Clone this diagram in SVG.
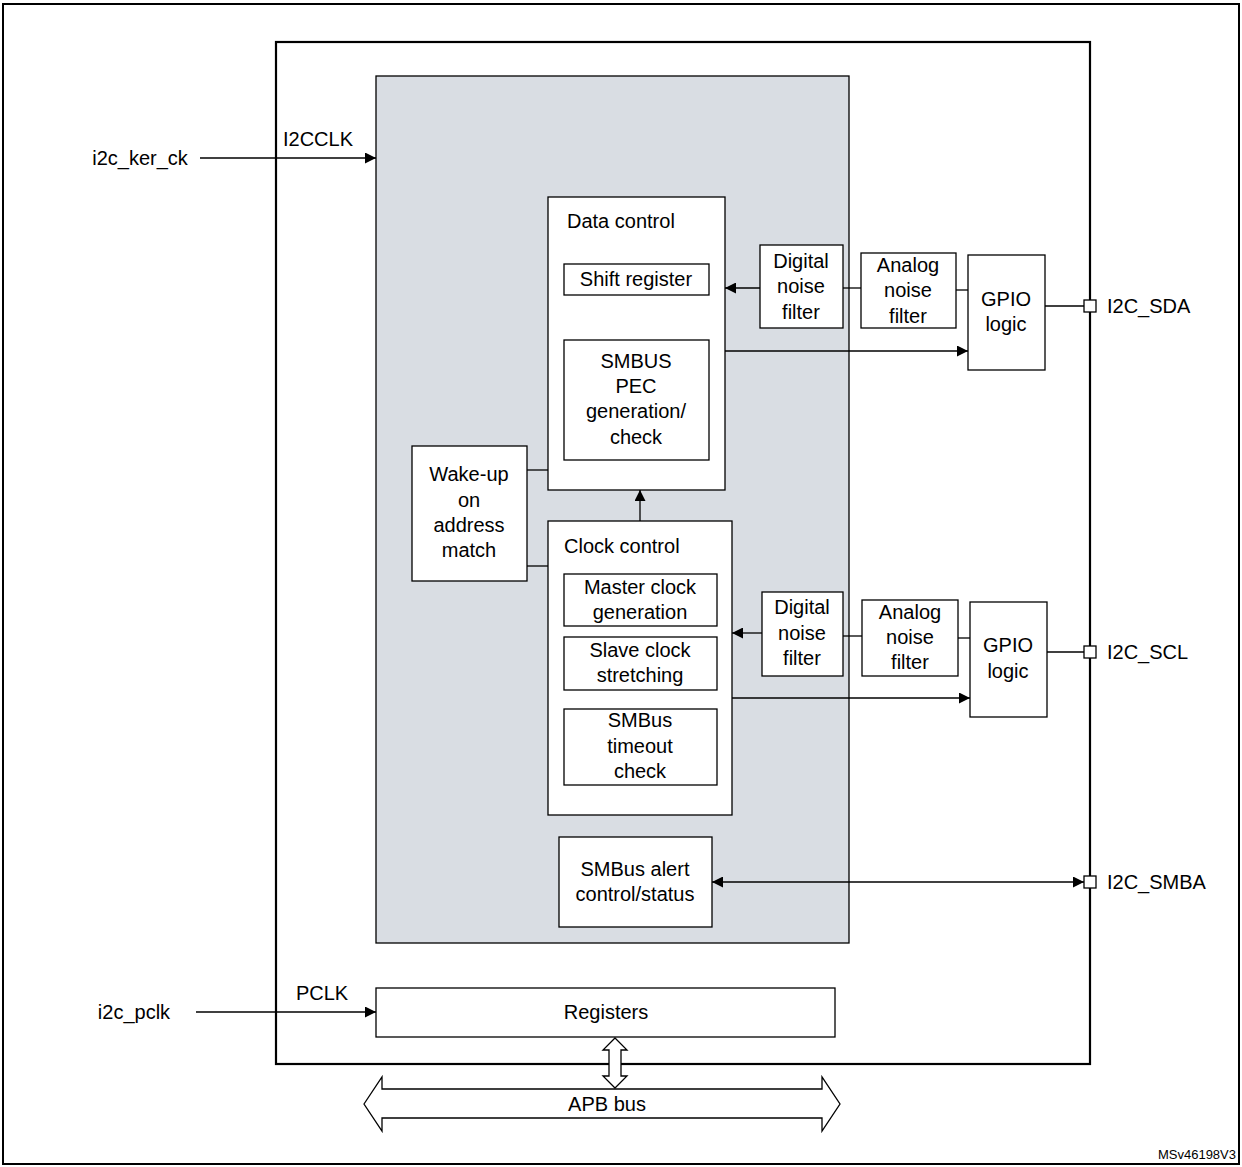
<svg xmlns="http://www.w3.org/2000/svg" width="1242" height="1167" viewBox="0 0 1242 1167">
<style>
text{font-family:"Liberation Sans",Arial,sans-serif;font-size:20px;fill:#000;text-anchor:middle}
.b{fill:#fff;stroke:#000;stroke-width:1.3}
.l{stroke:#000;stroke-width:1.3;fill:none}
.s{text-anchor:start}
</style>
<defs>
<marker id="a" viewBox="0 0 10 10" refX="10" refY="5" markerWidth="11" markerHeight="11" markerUnits="userSpaceOnUse" orient="auto-start-reverse"><path d="M0,0L10,5L0,10z" fill="#000"/></marker>
</defs>
<rect x="0" y="0" width="1242" height="1167" fill="#fff"/>
<rect x="3" y="4" width="1236" height="1160" fill="none" stroke="#000" stroke-width="2"/>
<rect x="276" y="42" width="814" height="1022" fill="#fff" stroke="#000" stroke-width="2.2"/>
<rect x="376" y="76" width="473" height="867" fill="#d9dde3" stroke="#000" stroke-width="1.3"/>
<g id="connectors">
<line class="l" x1="200" y1="158" x2="376" y2="158" marker-end="url(#a)"/>
<line class="l" x1="196" y1="1012" x2="376" y2="1012" marker-end="url(#a)"/>
<line class="l" x1="760" y1="288" x2="725" y2="288" marker-end="url(#a)"/>
<line class="l" x1="843" y1="288" x2="861" y2="288"/>
<line class="l" x1="956" y1="290" x2="968" y2="290"/>
<line class="l" x1="1045" y1="306" x2="1084" y2="306"/>
<line class="l" x1="725" y1="351" x2="968" y2="351" marker-end="url(#a)"/>
<line class="l" x1="762" y1="633" x2="732" y2="633" marker-end="url(#a)"/>
<line class="l" x1="843" y1="636" x2="862" y2="636"/>
<line class="l" x1="958" y1="638" x2="970" y2="638"/>
<line class="l" x1="1047" y1="652" x2="1084" y2="652"/>
<line class="l" x1="732" y1="698" x2="970" y2="698" marker-end="url(#a)"/>
<line class="l" x1="712" y1="882" x2="1084" y2="882" marker-start="url(#a)" marker-end="url(#a)"/>
<line class="l" x1="640" y1="521" x2="640" y2="490" marker-end="url(#a)"/>
<line class="l" x1="527" y1="470" x2="548" y2="470"/>
<line class="l" x1="527" y1="566" x2="548" y2="566"/>
<path class="b" d="M615,1038 L627,1050 L621,1050 L621,1076 L627,1076 L615,1088 L603,1076 L609,1076 L609,1050 L603,1050 Z"/>
<path class="b" d="M364,1104 L382,1077 L382,1089 L822,1089 L822,1077 L840,1104 L822,1131 L822,1118 L382,1118 L382,1131 Z"/>
</g>
<text x="140" y="165">i2c_ker_ck</text>
<text x="318" y="146">I2CCLK</text>
<text x="134" y="1019">i2c_pclk</text>
<text x="322" y="1000">PCLK</text>
<text x="607" y="1111">APB bus</text>
<g id="pins">
<rect class="b" x="1084" y="300" width="12" height="12"/>
<rect class="b" x="1084" y="646" width="12" height="12"/>
<rect class="b" x="1084" y="876" width="12" height="12"/>
<text class="s" x="1107" y="313">I2C_SDA</text>
<text class="s" x="1107" y="659">I2C_SCL</text>
<text class="s" x="1107" y="889">I2C_SMBA</text>
</g>
<g id="data"><rect class="b" x="548" y="197" width="177" height="293"/><text class="s" x="567" y="228">Data control</text></g>
<g id="shift"><rect class="b" x="564" y="264" width="145" height="31"/><text x="636" y="286">Shift register</text></g>
<g id="pec"><rect class="b" x="564" y="340" width="145" height="120"/><text x="636" y="368">SMBUS</text><text x="636" y="393">PEC</text><text x="636" y="418">generation/</text><text x="636" y="444">check</text></g>
<g id="wake"><rect class="b" x="412" y="446" width="115" height="135"/><text x="469" y="481">Wake-up</text><text x="469" y="507">on</text><text x="469" y="532">address</text><text x="469" y="557">match</text></g>
<g id="clock"><rect class="b" x="548" y="521" width="184" height="294"/><text class="s" x="564" y="553">Clock control</text></g>
<g id="master"><rect class="b" x="564" y="574" width="153" height="52"/><text x="640" y="594">Master clock</text><text x="640" y="619">generation</text></g>
<g id="slave"><rect class="b" x="564" y="637" width="153" height="53"/><text x="640" y="657">Slave clock</text><text x="640" y="682">stretching</text></g>
<g id="timeout"><rect class="b" x="564" y="709" width="153" height="76"/><text x="640" y="727">SMBus</text><text x="640" y="753">timeout</text><text x="640" y="778">check</text></g>
<g id="dnf1"><rect class="b" x="760" y="245" width="83" height="83"/><text x="801" y="268">Digital</text><text x="801" y="293">noise</text><text x="801" y="319">filter</text></g>
<g id="anf1"><rect class="b" x="861" y="253" width="95" height="75"/><text x="908" y="272">Analog</text><text x="908" y="297">noise</text><text x="908" y="323">filter</text></g>
<g id="gpio1"><rect class="b" x="968" y="255" width="77" height="115"/><text x="1006" y="306">GPIO</text><text x="1006" y="331">logic</text></g>
<g id="dnf2"><rect class="b" x="762" y="592" width="81" height="84"/><text x="802" y="614">Digital</text><text x="802" y="640">noise</text><text x="802" y="665">filter</text></g>
<g id="anf2"><rect class="b" x="862" y="600" width="96" height="76"/><text x="910" y="619">Analog</text><text x="910" y="644">noise</text><text x="910" y="669">filter</text></g>
<g id="gpio2"><rect class="b" x="970" y="602" width="77" height="115"/><text x="1008" y="652">GPIO</text><text x="1008" y="678">logic</text></g>
<g id="alert"><rect class="b" x="559" y="837" width="153" height="90"/><text x="635" y="876">SMBus alert</text><text x="635" y="901">control/status</text></g>
<g id="regs"><rect class="b" x="376" y="988" width="459" height="49"/><text x="606" y="1019">Registers</text></g>
<text x="1236" y="1159" style="font-size:13px;text-anchor:end">MSv46198V3</text>
</svg>
